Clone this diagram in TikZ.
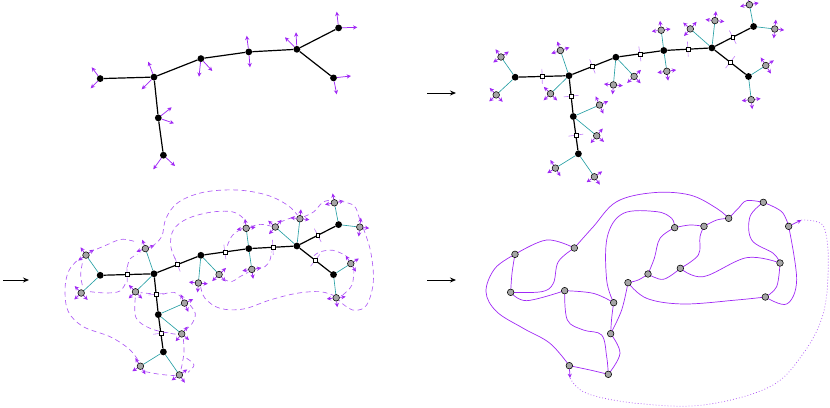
\documentclass[tikz,border=0pt]{standalone}
\usetikzlibrary{arrows.meta,calc}
\pgfdeclarelayer{bg}
\pgfsetlayers{bg,main}
\definecolor{purp}{RGB}{160,40,245}
\definecolor{lpurp}{RGB}{195,130,250}
\definecolor{dpurp}{RGB}{175,90,245}
\definecolor{tealc}{RGB}{40,160,165}
\tikzset{
 tedge/.style={line width=1.2pt, black},
 ledge/.style={line width=0.65pt, tealc},
 bdot/.style={circle, fill=black, inner sep=0pt, minimum size=6.8pt},
 gdot/.style={circle, fill=gray!70, draw=black, line width=0.55pt, inner sep=0pt, minimum size=6.6pt},
 sqbox/.style={rectangle, fill=white, draw=black, line width=0.5pt, inner sep=0pt, minimum size=3.8pt},
 parr/.style={purp, line width=0.75pt, -{Stealth[length=4.3pt,width=4.2pt]}},
 tickl/.style={lpurp, line width=0.6pt},
 closecurve/.style={dpurp, line width=0.65pt, dash pattern=on 5pt off 3.5pt},
 mcurve/.style={purp, line width=0.7pt},
 dotcurve/.style={dpurp, line width=0.75pt, dash pattern=on 0.8pt off 2.2pt},
 bigarr/.style={line width=0.9pt, -{Stealth[length=6pt,width=5pt]}},
}
\newcommand{\mkcore}[1]{%
 \node[bdot] (#1A) at (100.2,78.6) {};
 \node[bdot] (#1B) at (154,77.1) {};
 \node[bdot] (#1C) at (200.9,58.6) {};
 \node[bdot] (#1D) at (248.8,51.9) {};
 \node[bdot] (#1E) at (296.9,49.3) {};
 \node[bdot] (#1F) at (338.6,27.9) {};
 \node[bdot] (#1G) at (333.5,77.9) {};
 \node[bdot] (#1H) at (158.3,117.9) {};
 \node[bdot] (#1I) at (163.4,155.2) {};
}
\newcommand{\mkleaves}[1]{%
 \node[gdot] (#1A1) at (86.0,58.4) {};
 \node[gdot] (#1A2) at (81.2,96.3) {};
 \node[gdot] (#1B1) at (145.4,51.9) {};
 \node[gdot] (#1B2) at (135.5,95.1) {};
 \node[gdot] (#1C1) at (198.4,86.3) {};
 \node[gdot] (#1C2) at (219.1,77.8) {};
 \node[gdot] (#1D1) at (246.2,31.6) {};
 \node[gdot] (#1D2) at (251.8,72.7) {};
 \node[gdot] (#1E1) at (275.3,30.3) {};
 \node[gdot] (#1E2) at (299.9,22.0) {};
 \node[gdot] (#1F1) at (334.4,6.1) {};
 \node[gdot] (#1F2) at (359.8,30.4) {};
 \node[gdot] (#1G1) at (350.8,66.9) {};
 \node[gdot] (#1G2) at (336.2,101.1) {};
 \node[gdot] (#1H1) at (184.5,106.4) {};
 \node[gdot] (#1H2) at (181.7,137.2) {};
 \node[gdot] (#1I1) at (140.4,169.5) {};
 \node[gdot] (#1I2) at (179.4,178.2) {};
}
\newcommand{\mkedges}[1]{%
 \begin{pgfonlayer}{bg}
 \foreach \ua/\ub in {A/B,B/C,C/D,D/E,E/F,E/G,B/H,H/I} {\draw[tedge] (#1\ua) -- (#1\ub);}
 \end{pgfonlayer}
}
\newcommand{\mkrest}[1]{%
 \foreach \ua/\ub in {A/B,B/C,C/D,D/E,E/F,E/G,B/H,H/I} {\node[sqbox] (#1m\ua\ub) at ($(#1\ua)!0.5!(#1\ub)$) {};}
 \begin{pgfonlayer}{bg}
 \foreach \vv in {A,B,C,D,E,F,G,H,I} {\draw[ledge] (#1\vv) -- (#1\vv1); \draw[ledge] (#1\vv) -- (#1\vv2);}
 \foreach \ua/\ub in {A/B,B/C,C/D,D/E,E/F,E/G,B/H,H/I} {\draw[tickl] ($(#1m\ua\ub)!7.5pt!90:(#1\ub)$) -- ($(#1m\ua\ub)!7.5pt!-90:(#1\ub)$);}
 \end{pgfonlayer}
 \foreach \vv in {A,B,C,D,E,F,G,H,I} {\foreach \k in {1,2} {\foreach \ang in {90,180,270} {\draw[parr] (#1\vv\k) -- ($(#1\vv\k)!9.5pt!\ang:(#1\vv)$);}}}
}
\begin{document}
\begin{tikzpicture}[x=1pt,y=-1pt]
\useasboundingbox (0,0) rectangle (830,407);
% ---------------- panel 1
\mkcore{p}
\mkedges{p}
\draw[parr] (pA) -- +(-8.5,-11.3);  \draw[parr] (pA) -- +(-9.5,9.7);
\draw[parr] (pB) -- +(-5.7,-15.4);  \draw[parr] (pB) -- +(-12.3,12.2);
\draw[parr] (pC) -- +(-1.9,18.1);   \draw[parr] (pC) -- +(11.4,12.4);
\draw[parr] (pD) -- +(-2.1,-16.2);  \draw[parr] (pD) -- +(1.2,15.4);
\draw[parr] (pE) -- +(-11.9,-12);   \draw[parr] (pE) -- +(-0.9,-17);
\draw[parr] (pF) -- +(-1.9,-16.2);  \draw[parr] (pF) -- +(18.7,-0.6);
\draw[parr] (pG) -- +(17.5,-1.9);   \draw[parr] (pG) -- +(3.2,16.4);
\draw[parr] (pH) -- +(13.4,-10.6);  \draw[parr] (pH) -- +(15.7,5.4);
\draw[parr] (pI) -- +(-10.1,14.1);  \draw[parr] (pI) -- +(11.6,10.8);
% ---------------- panel 2
\begin{scope}[shift={(415,-1.4)}]
\mkcore{q}\mkleaves{q}
\end{scope}
\mkedges{q}\mkrest{q}
% ---------------- panel 3
\begin{scope}[shift={(0,196.7)}]
\mkcore{s}\mkleaves{s}
\end{scope}
\mkedges{s}\mkrest{s}
\begin{scope}[x=0.33333pt,y=-0.33333pt,shift={(150,555)}]
\foreach \pts in {
 {(80,228) (55,260) (45,315) (55,380) (100,425) (180,455) (235,490) (262,522)},
 {(118,202) (165,182) (215,163) (262,172)},
 {(97,235) (92,270) (98,305)},
 {(120,320) (170,324) (210,318) (228,292)},
 {(232,246) (240,222) (262,208)},
 {(305,185) (335,155) (348,100) (385,52) (460,22) (560,15) (650,30) (712,60) (742,90)},
 {(376,222) (362,182) (370,135) (410,102) (480,82) (545,80) (578,98) (586,117)},
 {(452,305) (465,340) (510,370) (580,372) (660,345) (740,325) (810,320) (852,332)},
 {(520,282) (545,290) (568,276) (595,262)},
 {(618,250) (645,245) (660,225) (664,200)},
 {(532,182) (548,150) (578,130)},
 {(602,125) (632,118) (665,124)},
 {(690,112) (720,100) (742,100)},
 {(762,95) (792,80) (818,52) (845,45)},
 {(868,48) (912,62) (928,100) (930,115)},
 {(940,130) (962,200) (970,290) (950,360) (915,376) (885,362) (868,346)},
 {(912,250) (906,300) (878,330)},
 {(792,212) (812,200) (850,196) (888,212)},
 {(256,338) (258,398) (300,430) (360,445) (388,448)},
 {(338,328) (372,322) (398,340)},
 {(303,326) (272,323)},
 {(420,360) (436,386) (426,416) (404,436)},
 {(400,462) (402,500) (396,540) (391,560)},
 {(286,560) (330,568) (376,572)},
 {(410,520) (432,540) (414,562)}}
 {\draw[closecurve] plot[smooth,tension=0.6] coordinates \pts;}
\end{scope}
% ---------------- panel 4
\begin{scope}[x=0.33333pt,y=-0.33333pt,shift={(1410,540)}]
\node[gdot] (r1) at (135,223) {};
\node[gdot] (r2) at (313,204) {};
\node[gdot] (r3) at (122,337) {};
\node[gdot] (r4) at (284,332) {};
\node[gdot] (r5) at (431,368) {};
\node[gdot] (r6) at (422,461) {};
\node[gdot] (r7) at (298,557) {};
\node[gdot] (r8) at (415,583) {};
\node[gdot] (r9) at (474,308) {};
\node[gdot] (r10) at (534,282) {};
\node[gdot] (r11) at (631,265) {};
\node[gdot] (r12) at (614,143) {};
\node[gdot] (r13) at (702,139) {};
\node[gdot] (r14) at (776,115) {};
\node[gdot] (r15) at (880,67) {};
\node[gdot] (r16) at (956,139) {};
\node[gdot] (r17) at (930,249) {};
\node[gdot] (r18) at (886,351) {};
\coordinate (t16) at (994,120);
\coordinate (t7) at (300,594);
\begin{pgfonlayer}{bg}
\foreach \pts in {
 {(r1) (230,180) (r2)},
 {(r1) (126,280) (r3)},
 {(r1) (75,265) (48,335) (80,395) (160,445) (240,490) (r7)},
 {(r2) (265,245) (250,310) (215,335) (r3)},
 {(r3) (170,362) (r4)},
 {(r2) (370,140) (440,65) (550,38) (660,45) (740,85) (r14)},
 {(r4) (370,340) (r5)},
 {(r4) (292,420) (340,450) (395,465) (410,530) (r8)},
 {(r5) (425,415) (r6)},
 {(r5) (410,300) (412,170) (460,100) (560,95) (605,115) (r12)},
 {(r6) (455,390) (r9)},
 {(r6) (450,520) (r8)},
 {(r7) (360,570) (r8)},
 {(r9) (505,300) (r10)},
 {(r9) (530,355) (640,372) (800,360) (r18)},
 {(r10) (580,298) (r11)},
 {(r10) (553,235) (570,175) (r12)},
 {(r11) (685,225) (690,170) (r13)},
 {(r11) (700,290) (830,233) (r17)},
 {(r12) (660,135) (r13)},
 {(r13) (740,120) (r14)},
 {(r14) (805,85) (830,62) (r15)},
 {(r15) (840,110) (845,180) (910,220) (r17)},
 {(r15) (935,95) (r16)},
 {(r16) (980,300) (950,372) (r18)},
 {(r17) (920,320) (r18)}}
 {\draw[mcurve] plot[smooth,tension=0.6] coordinates \pts;}
\draw[dotcurve] plot[smooth,tension=0.6] coordinates {(t16) (1040,125) (1065,150) (1075,250) (1060,400) (1000,520) (900,620) (700,675) (500,670) (350,640) (t7)};
\end{pgfonlayer}
\draw[parr] (r16) -- (t16);
\draw[parr] (r7) -- (t7);
\end{scope}
% ---------------- big arrows
\coordinate (a1s) at (427,93);  \coordinate (a1e) at (456,93);
\coordinate (a2s) at (3,280);   \coordinate (a2e) at (29,280);
\coordinate (a3s) at (427,280); \coordinate (a3e) at (456,280);
\draw[bigarr] (a1s) -- (a1e);
\draw[bigarr] (a2s) -- (a2e);
\draw[bigarr] (a3s) -- (a3e);
\end{tikzpicture}
\end{document}
